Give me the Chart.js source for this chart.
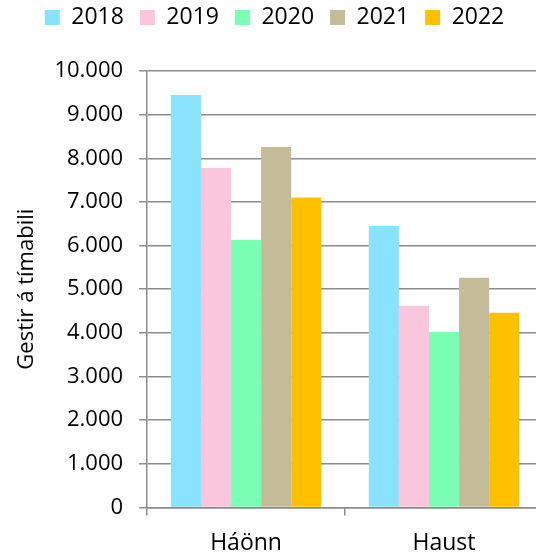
<!DOCTYPE html>
<html>
<head>
<meta charset="utf-8">
<script src="https://cdn.jsdelivr.net/npm/chart.js@4/dist/chart.umd.min.js"></script>
<style>
  html, body { margin: 0; padding: 0; background: #fff; overflow: hidden; }
  #wrap { width: 545px; height: 558px; position: relative; }
</style>
</head>
<body>
<div id="wrap"><canvas id="chart"></canvas></div>
<script>
// Gestir á tímabili, by season and year
const CATEGORIES = ["Háönn", "Haust"];
const YEARS = ["2018", "2019", "2020", "2021", "2022"];
const COLORS = ["#89E2FE", "#F9C6DE", "#7BFFB5", "#C4BC98", "#FFC000"];

const V2018 = [9450, 6450];
const V2019 = [7780, 4620];
const V2020 = [6130, 4020];
const V2021 = [8260, 5260];
const V2022 = [7100, 4460];

const SERIES = [V2018, V2019, V2020, V2021, V2022];

const Y_MIN = 0;
const Y_MAX = 10000;
const Y_STEP = 1000;

const FONT = "'Open Sans', 'Liberation Sans', sans-serif";
const GRID = "#8c8c8c";

function thousands(v) {
  return String(v).replace(/\B(?=(\d{3})+(?!\d))/g, ".");
}

// give the legend some extra room underneath so the plot starts lower
const legendSpace = {
  id: "legendSpace",
  beforeInit(chart) {
    const fit = chart.legend.fit;
    chart.legend.fit = function () {
      fit.call(this);
      this.height += 32;
    };
  },
};

new Chart(document.getElementById("chart"), {
  type: "bar",
  data: {
    labels: CATEGORIES,
    datasets: YEARS.map((y, i) => ({
      label: y,
      data: SERIES[i],
      backgroundColor: COLORS[i],
      borderWidth: 0,
      categoryPercentage: 0.76,
      barPercentage: 1.0,
    })),
  },
  plugins: [legendSpace],
  options: {
    responsive: true,
    maintainAspectRatio: false,
    animation: false,
    layout: { padding: { left: 6, right: 2, top: -10, bottom: -13 } },
    plugins: {
      tooltip: { enabled: false },
      legend: {
        position: "top",
        labels: {
          color: "#000",
          font: { family: FONT, size: 23 },
          boxWidth: 15,
          boxHeight: 15,
          padding: 16,
        },
      },
    },
    scales: {
      x: {
        grid: { offset: true, drawOnChartArea: false, drawTicks: true, tickLength: 8, color: GRID, lineWidth: 1.5 },
        border: { color: GRID, width: 1.5 },
        ticks: { color: "#000", font: { family: FONT, size: 23 }, padding: 14 },
      },
      y: {
        min: Y_MIN,
        max: Y_MAX,
        grid: { color: GRID, lineWidth: 1.5, tickLength: 8 },
        border: { color: GRID, width: 1.5 },
        ticks: {
          stepSize: Y_STEP,
          color: "#000",
          font: { family: FONT, size: 22 },
          padding: 16,
          callback: v => thousands(v),
        },
        title: {
          display: true,
          text: "Gestir á tímabili",
          color: "#000",
          font: { family: FONT, size: 22 },
          padding: { top: 8, bottom: -2 },
        },
      },
    },
  },
});
</script>
</body>
</html>
